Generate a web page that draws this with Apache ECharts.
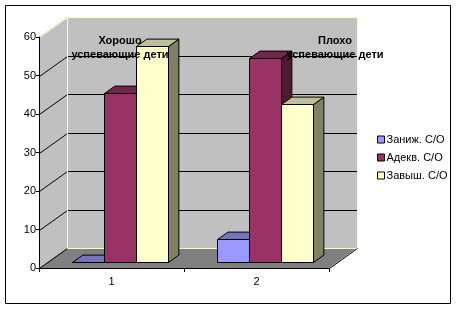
<!DOCTYPE html>
<html><head><meta charset="utf-8">
<script src="https://cdn.jsdelivr.net/npm/echarts@6/dist/echarts.min.js"></script>
<style>html,body{margin:0;padding:0;background:#fff}#c{width:459px;height:309px}</style>
</head><body><div id="c"></div>
<script>
const categories = ['1', '2'];
const seriesNames = ['Заниж. С/О', 'Адекв. С/О', 'Завыш. С/О'];
const zanizhValues = [0, 6];
const adekvValues = [44, 53];
const zavyshValues = [56, 41];
const yTickValues = [0, 10, 20, 30, 40, 50, 60];
const groupNotes = ['Хорошо\nуспевающие дети', 'Плохо\nуспевающие дети'];

const colors = ['#9999FF', '#993366', '#FFFFCC'];
const DEPTH = [28, -20];
const BAR_FRONT = 0.3, BAR_BACK = 0.67;
const WALL_EDGE = '#FFFFC0';
const FONT = "'Liberation Sans', Arial, sans-serif";

function shade(hex, k) {
  const n = parseInt(hex.slice(1), 16);
  const r = Math.round(((n >> 16) & 255) * k), g = Math.round(((n >> 8) & 255) * k), b = Math.round((n & 255) * k);
  return 'rgb(' + r + ',' + g + ',' + b + ')';
}
const px = v => Math.round(v) + 0.5;

function line(points, color) {
  return { type: 'polyline', shape: { points: points.map(p => [px(p[0]), px(p[1])]) }, style: { stroke: color, lineWidth: 1, fill: null } };
}

function wallRender(params, api) {
  const cs = params.coordSys;
  const x0 = cs.x, x1 = cs.x + cs.width;
  const yb = api.coord([0, yTickValues[0]])[1];
  const yt = api.coord([0, yTickValues[yTickValues.length - 1]])[1];
  const dx = DEPTH[0], dy = DEPTH[1];
  const ch = [];
  ch.push({ type: 'polygon', shape: { points: [[x0 + dx, yt + dy], [x1 + dx, yt + dy], [x1 + dx, yb + dy], [x0 + dx, yb + dy]] }, style: { fill: '#C0C0C0' } });
  ch.push({ type: 'polygon', shape: { points: [[x0, yt], [x0 + dx, yt + dy], [x0 + dx, yb + dy], [x0, yb]] }, style: { fill: '#C0C0C0' } });
  ch.push({ type: 'polygon', shape: { points: [[x0, yb], [x1, yb], [x1 + dx, yb + dy], [x0 + dx, yb + dy]] }, style: { fill: '#808080' } });
  yTickValues.forEach((v, i) => {
    const y = api.coord([0, v])[1];
    const isTop = i === yTickValues.length - 1, isBottom = i === 0;
    ch.push(line([[x0, y], [x0 + dx, y + dy]], isTop ? WALL_EDGE : '#000'));
    ch.push(line([[x0 + dx, y + dy], [x1 + dx, y + dy]], (isTop || isBottom) ? WALL_EDGE : '#000'));
  });
  ch.push(line([[x0 + dx, yt + dy], [x0 + dx, yb + dy]], WALL_EDGE));
  ch.push(line([[x1 + dx, yt + dy], [x1 + dx, yb + dy]], WALL_EDGE));
  ch.push(line([[x1, yb], [x1 + dx, yb + dy]], '#000'));
  return { type: 'group', children: ch };
}

function barRender(sIdx) {
  return function (params, api) {
    const cat = api.value(0), val = api.value(1);
    const base = api.coord([cat, 0]);
    const w = api.size([1, 0])[0] / 4.5;
    const fx = DEPTH[0] * BAR_FRONT, fy = DEPTH[1] * BAR_FRONT;
    const bx = DEPTH[0] * (BAR_BACK - BAR_FRONT), by = DEPTH[1] * (BAR_BACK - BAR_FRONT);
    const h = api.size([0, val])[1];
    const left = Math.round(base[0] - 1.5 * w + sIdx * w + fx) + 0.5;
    const right = Math.round(base[0] - 1.5 * w + (sIdx + 1) * w + fx) + 0.5;
    const bottom = Math.round(base[1] + fy) + 0.5;
    const top = Math.round(base[1] + fy - h) + 0.5;
    const c = colors[sIdx];
    const st = { stroke: '#000', lineWidth: 1 };
    return { type: 'group', children: [
      { type: 'polygon', shape: { points: [[right, top], [right + bx, top + by], [right + bx, bottom + by], [right, bottom]] }, style: Object.assign({ fill: shade(c, 0.5) }, st) },
      { type: 'polygon', shape: { points: [[left, top], [right, top], [right + bx, top + by], [left + bx, top + by]] }, style: Object.assign({ fill: shade(c, 0.75) }, st) },
      { type: 'rect', shape: { x: left, y: top, width: right - left, height: bottom - top }, style: Object.assign({ fill: c }, st) }
    ] };
  };
}

const valueLists = [zanizhValues, adekvValues, zavyshValues];
const chart = echarts.init(document.getElementById('c'), null, { renderer: 'canvas' });
chart.setOption({
  animation: false,
  backgroundColor: '#fff',
  textStyle: { fontFamily: FONT },
  grid: { left: 39, right: 130, top: 37, bottom: 41 },
  xAxis: {
    type: 'category', data: categories, z: 5,
    axisLine: { lineStyle: { color: '#000', width: 1 } },
    axisTick: { show: true, length: 4, lineStyle: { color: '#000' } },
    axisLabel: { color: '#000', fontSize: 11, margin: 8, fontFamily: FONT },
    splitLine: { show: false }
  },
  yAxis: {
    type: 'value', min: 0, max: 60, interval: 10, z: 5,
    axisLine: { show: true, lineStyle: { color: '#000', width: 1 } },
    axisTick: { show: true, length: 3, lineStyle: { color: '#000' } },
    axisLabel: { color: '#000', fontSize: 11, margin: 3, fontFamily: FONT },
    splitLine: { show: false }
  },
  legend: {
    data: seriesNames, orient: 'vertical', left: 372, top: 129,
    icon: 'rect', itemWidth: 7, itemHeight: 7, itemGap: 7,
    itemStyle: { borderColor: '#000', borderWidth: 1 },
    textStyle: { fontSize: 11, color: '#000', fontFamily: FONT, padding: [0, 0, 0, -3] }
  },
  series: [
    { type: 'custom', name: 'walls', z: 1, silent: true, renderItem: wallRender, data: [[0, 0]], encode: { x: 0, y: 1 } }
  ].concat(seriesNames.map((name, i) => ({
    type: 'custom', name: name, z: 2, itemStyle: { color: colors[i] },
    renderItem: barRender(i),
    data: valueLists[i].map((v, k) => [k, v]),
    encode: { x: 0, y: 1 }
  }))),
  graphic: [
    { type: 'rect', z: 10, shape: { x: 5.5, y: 5.5, width: 445, height: 298 }, style: { fill: null, stroke: '#000', lineWidth: 1 } },
    { type: 'text', z: 10, x: 120, y: 34, style: { text: groupNotes[0], font: "bold 11px " + FONT, textAlign: 'center', lineHeight: 14, fill: '#000' } },
    { type: 'text', z: 10, x: 335, y: 34, style: { text: groupNotes[1], font: "bold 11px " + FONT, textAlign: 'center', lineHeight: 14, fill: '#000' } }
  ]
});
</script></body></html>
